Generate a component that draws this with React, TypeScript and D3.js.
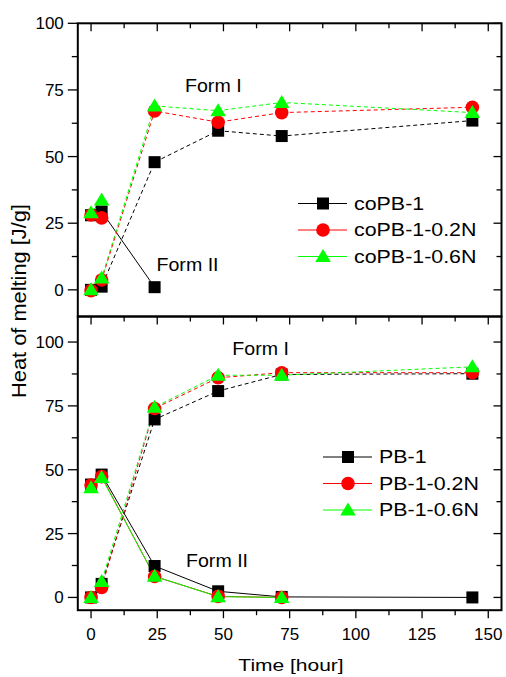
import React from "react";
import * as d3 from "d3";

// ---------- data ----------
const times = [0, 4, 24, 48, 72, 144];

// top panel (coPB-1 series)
const coPB1_FormI = [0, 1.2, 47.9, 59.7, 57.7, 63.5];
const coPB1_FormII = [28.0, 29.4, 1.0];
const coPB1_02N_FormI = [-0.3, 3.7, 67.1, 62.9, 66.5, 68.5];
const coPB1_02N_FormII = [28.1, 27.0];
const coPB1_06N_FormI = [0, 4.4, 69.0, 67.2, 70.3, 66.5];
const coPB1_06N_FormII = [28.9, 33.7];

// bottom panel (PB-1 series)
const PB1_FormI = [0, 5.3, 69.7, 80.8, 87.3, 87.6];
const PB1_FormII = [44.2, 48.1, 12.3, 2.4, 0.2, 0];
const PB1_02N_FormI = [0, 3.9, 74.0, 86.0, 88.0, 88.0];
const PB1_02N_FormII = [44.0, 47.3, 8.2, 0.4, 0];
const PB1_06N_FormI = [0, 6.2, 74.5, 87.0, 87.0, 90.3];
const PB1_06N_FormII = [42.9, 47.0, 8.3, 0.3, 0];

const topLegend = ["coPB-1", "coPB-1-0.2N", "coPB-1-0.6N"];
const botLegend = ["PB-1", "PB-1-0.2N", "PB-1-0.6N"];
const xTicks = [0, 25, 50, 75, 100, 125, 150];
const yTicks = [0, 25, 50, 75, 100];

const COLORS = ["#000000", "#ff0000", "#00ff00"];
const SHAPES = ["square", "circle", "triangle"];

// ---------- layout ----------
const W = 506, H = 677;
const L = 77.8, R = 501.5, T = 23.3, M = 316.5, B = 610.2;
const FONT = "Liberation Sans, Arial, sans-serif";

const x = d3.scaleLinear().domain([-5, 155]).range([L, R]);
const yTop = d3.scaleLinear().domain([-10, 100]).range([M, T]);
const yBot = d3.scaleLinear().domain([-5, 110]).range([B, M]);

type Ser = { vals: number[]; color: string; shape: string; dashed: boolean };

function SText({ x0, y0, text, size, sx = 1, sy = 1, rot = 0, anchor = "start" }: any) {
  return (
    <text
      transform={`translate(${x0},${y0}) rotate(${rot}) scale(${sx},${sy})`}
      textAnchor={anchor}
      fontFamily={FONT}
      fontSize={size}
    >
      {text}
    </text>
  );
}

function Marker({ shape, cx, cy, color }: { shape: string; cx: number; cy: number; color: string }) {
  if (shape === "square") return <rect x={cx - 6} y={cy - 6} width={12} height={12} fill={color} />;
  if (shape === "circle") return <circle cx={cx} cy={cy} r={6.8} fill={color} />;
  const p = d3.path();
  p.moveTo(cx, cy - 7.5);
  p.lineTo(cx + 7.8, cy + 5.5);
  p.lineTo(cx - 7.8, cy + 5.5);
  p.closePath();
  return <path d={p.toString()} fill={color} />;
}

function Panel({ y, series, legend, legX, legY, isTop }: any) {
  const y0 = y.range()[0], y1 = y.range()[1];
  const line = d3.line<[number, number]>().x((d) => x(d[0])).y((d) => y(d[1]));
  const minorX = d3.range(-0, 156, 12.5).filter((v) => !xTicks.includes(v));
  const dom = y.domain();
  const minorY = d3.range(12.5, dom[1], 25);
  return (
    <g>
      {series.map((s: Ser, i: number) => (
        <path
          key={"l" + i}
          d={line(s.vals.map((v, j) => [times[j], v]) as [number, number][]) || ""}
          fill="none"
          stroke={s.color}
          strokeWidth={1}
          strokeDasharray={s.dashed ? "4,3" : undefined}
        />
      ))}
      {series.map((s: Ser, i: number) =>
        s.vals.map((v, j) => (
          <Marker key={"m" + i + "-" + j} shape={s.shape} cx={x(times[j])} cy={y(v)} color={s.color} />
        ))
      )}
      <rect x={L} y={y1} width={R - L} height={y0 - y1} fill="none" stroke="#000" strokeWidth={2} />
      {xTicks.map((t) => (
        <line key={"tt" + t} x1={x(t)} x2={x(t)} y1={y1} y2={y1 + 8} stroke="#000" strokeWidth={1.3} />
      ))}
      {minorX.map((t) => (
        <line key={"tm" + t} x1={x(t)} x2={x(t)} y1={y1} y2={y1 + 5} stroke="#000" strokeWidth={1.3} />
      ))}
      {!isTop &&
        xTicks.map((t) => (
          <line key={"bt" + t} x1={x(t)} x2={x(t)} y1={y0} y2={y0 + 8} stroke="#000" strokeWidth={1.3} />
        ))}
      {!isTop &&
        minorX.map((t) => (
          <line key={"bm" + t} x1={x(t)} x2={x(t)} y1={y0} y2={y0 + 5} stroke="#000" strokeWidth={1.3} />
        ))}
      {!isTop &&
        xTicks.map((t) => (
          <text key={"bl" + t} x={x(t)} y={y0 + 29.5} textAnchor="middle" fontFamily={FONT} fontSize={17}>
            {t}
          </text>
        ))}
      {yTicks.map((t) => (
        <g key={"y" + t}>
          <line x1={L - 10} x2={L} y1={y(t)} y2={y(t)} stroke="#000" strokeWidth={1.3} />
          <line x1={R - 8} x2={R} y1={y(t)} y2={y(t)} stroke="#000" strokeWidth={1.3} />
          <text x={L - 14} y={y(t) + 6} textAnchor="end" fontFamily={FONT} fontSize={17}>
            {t}
          </text>
        </g>
      ))}
      {minorY.map((t: number) => (
        <g key={"ym" + t}>
          <line x1={L - 6} x2={L} y1={y(t)} y2={y(t)} stroke="#000" strokeWidth={1.3} />
          <line x1={R - 5} x2={R} y1={y(t)} y2={y(t)} stroke="#000" strokeWidth={1.3} />
        </g>
      ))}
      {legend.map((name: string, i: number) => {
        const cy = legY + i * 26.5;
        return (
          <g key={"lg" + i}>
            <line x1={legX - 25} x2={legX + 24} y1={cy} y2={cy} stroke={COLORS[i]} strokeWidth={1} />
            <Marker shape={SHAPES[i]} cx={legX} cy={cy} color={COLORS[i]} />
            <SText x0={legX + 31} y0={cy + 6.3} text={name} size={21.4} sy={0.83} />
          </g>
        );
      })}
    </g>
  );
}

export default function App() {
  const mk = (arrs: number[][]): Ser[] => {
    const out: Ser[] = [];
    arrs.forEach((a, k) => {
      const ci = Math.floor(k / 2);
      out.push({ vals: a, color: COLORS[ci], shape: SHAPES[ci], dashed: k % 2 === 0 });
    });
    return out;
  };
  const topSeries = mk([coPB1_FormI, coPB1_FormII, coPB1_02N_FormI, coPB1_02N_FormII, coPB1_06N_FormI, coPB1_06N_FormII]);
  const botSeries = mk([PB1_FormI, PB1_FormII, PB1_02N_FormI, PB1_02N_FormII, PB1_06N_FormI, PB1_06N_FormII]);
  return (
    <svg width={W} height={H} style={{ position: "absolute", left: 0, top: 0, background: "#fff" }}>
      <rect x={0} y={0} width={W} height={H} fill="#fff" />
      <Panel y={yTop} series={topSeries} legend={topLegend} legX={323} legY={203.5} isTop={true} />
      <Panel y={yBot} series={botSeries} legend={botLegend} legX={348} legY={457} isTop={false} />
      <SText x0={185} y0={91.7} text="Form I" size={19.6} sy={0.94} />
      <SText x0={156.5} y0={270.7} text="Form II" size={19.6} sy={0.94} />
      <SText x0={232.3} y0={355} text="Form I" size={19.6} sy={0.94} />
      <SText x0={186} y0={566.7} text="Form II" size={19.6} sy={0.94} />
      <SText x0={291} y0={670.5} text="Time [hour]" size={21} sy={0.82} anchor="middle" />
      <SText x0={26} y0={301} text="Heat of melting [J/g]" size={21.8} sy={0.92} rot={-90} anchor="middle" />
    </svg>
  );
}
